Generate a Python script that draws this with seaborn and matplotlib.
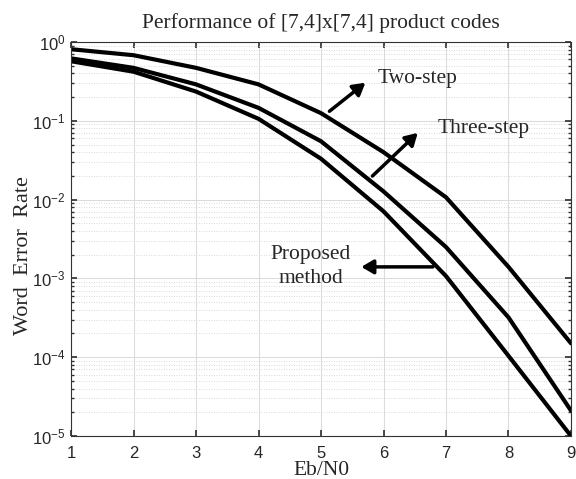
import numpy as np
import pandas as pd
import matplotlib
matplotlib.use("Agg")
import matplotlib.pyplot as plt
import seaborn as sns
from matplotlib.ticker import LogLocator, NullFormatter

ebn0 = [1, 2, 3, 4, 5, 6, 7, 8, 9]
two_step = [0.81, 0.68, 0.47, 0.29, 0.125, 0.040, 0.0107, 0.0014, 0.00015]
three_step = [0.62, 0.47, 0.29, 0.146, 0.055, 0.0127, 0.0025, 0.00032, 0.000021]
proposed = [0.57, 0.42, 0.235, 0.106, 0.033, 0.0071, 0.00107, 0.000104, 0.00001]

df = pd.concat([
    pd.DataFrame({"Eb/N0": ebn0, "WER": two_step, "Method": "Two-step"}),
    pd.DataFrame({"Eb/N0": ebn0, "WER": three_step, "Method": "Three-step"}),
    pd.DataFrame({"Eb/N0": ebn0, "WER": proposed, "Method": "Proposed method"}),
])

sns.set_theme(style="white")
serif = ["Liberation Serif", "DejaVu Serif"]
sans = ["Liberation Sans", "DejaVu Sans"]

fig = plt.figure(figsize=(5.76, 4.79), dpi=100)
ax = fig.add_axes([0.1233, 0.0898, 0.868, 0.8225])

sns.lineplot(data=df, x="Eb/N0", y="WER", hue="Method",
             palette=["black", "black", "black"], linewidth=3, legend=False, ax=ax)
ax.set_yscale("log")
ax.set_xlim(1, 9)
ax.set_ylim(1e-5, 1)
ax.set_xticks(ebn0)
ax.yaxis.set_major_locator(LogLocator(base=10, numticks=10))
ax.yaxis.set_minor_locator(LogLocator(base=10, subs=np.arange(2, 10), numticks=20))
ax.yaxis.set_minor_formatter(NullFormatter())

ax.grid(True, which="major", color="#dcdcdc", linewidth=0.8, linestyle="-")
ax.grid(True, which="minor", axis="y", color="#cfcfcf", linewidth=0.6, linestyle=(0, (1, 2)))
for s in ax.spines.values():
    s.set_color("#333333")
    s.set_linewidth(0.8)
ax.tick_params(axis="both", which="major", direction="in", length=4, color="#333333",
               labelsize=12, labelcolor="#262626", top=True, right=True, bottom=True, left=True)
ax.tick_params(axis="x", which="major", pad=7)
ax.tick_params(axis="y", which="major", pad=4)
ax.tick_params(axis="y", which="minor", direction="in", length=2, color="#333333", right=True, left=True)
for lab in ax.get_xticklabels() + ax.get_yticklabels():
    lab.set_family(sans)

ax.set_title("Performance of [7,4]x[7,4] product codes", family=serif, fontsize=15.5, pad=10)
ax.set_xlabel("Eb/N0", family=serif, fontsize=15.5, labelpad=0)
ax.set_ylabel("Word  Error  Rate", family=serif, fontsize=16)
ax.yaxis.set_label_coords(-0.076, 0.457)

arrow = dict(arrowstyle="-|>,head_length=0.6,head_width=0.35", color="black", lw=2.5)
ax.annotate("", xy=(5.745, 0.32), xytext=(5.10, 0.1256), arrowprops=arrow)
ax.text(5.905, 0.34, "Two-step", family=serif, fontsize=15.5, va="center", ha="left")
ax.annotate("", xy=(6.58, 0.0743), xytext=(5.79, 0.0188), arrowprops=arrow)
ax.text(6.86, 0.08, "Three-step", family=serif, fontsize=15.5, va="center", ha="left")
ax.annotate("", xy=(5.60, 0.0014), xytext=(6.835, 0.0014), arrowprops=arrow)
ax.text(4.83, 0.00141, "Proposed\nmethod", family=serif, fontsize=15.5, va="center",
        ha="center", linespacing=1.35)

fig.savefig("out.png", dpi=100)
